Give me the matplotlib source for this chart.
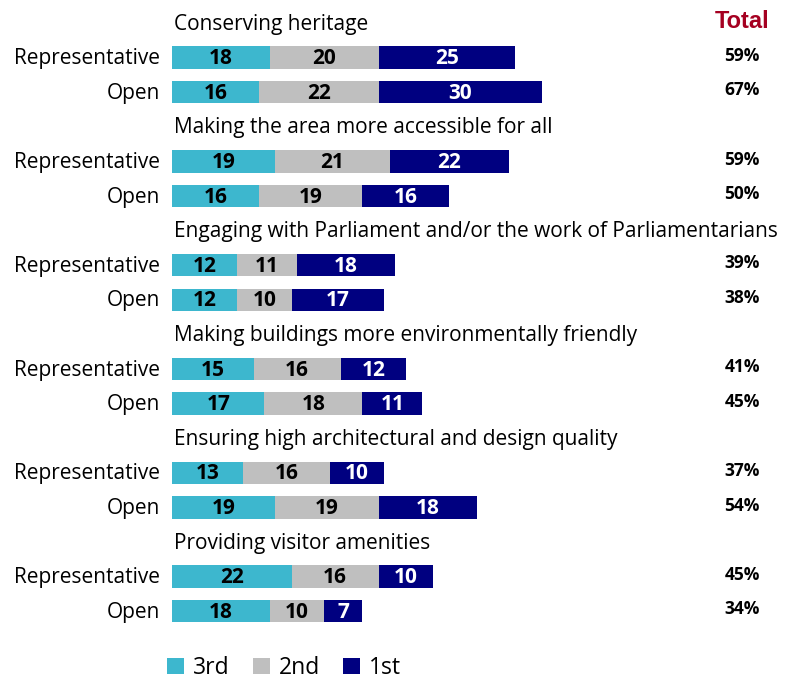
import numpy as np
import matplotlib.pyplot as plt

plt.rcParams['font.family'] = ['Open Sans', 'DejaVu Sans']

topics = [
    "Conserving heritage",
    "Making the area more accessible for all",
    "Engaging with Parliament and/or the work of Parliamentarians",
    "Making buildings more environmentally friendly",
    "Ensuring high architectural and design quality",
    "Providing visitor amenities",
]
samples = ["Representative", "Open"]

# ranked 3rd / 2nd / 1st, one pair (Representative, Open) per topic
third = [18, 16, 19, 16, 12, 12, 15, 17, 13, 19, 22, 18]
second = [20, 22, 21, 19, 11, 10, 16, 18, 16, 19, 16, 10]
first = [25, 30, 22, 16, 18, 17, 12, 11, 10, 18, 10, 7]
totals = [59, 67, 59, 50, 39, 38, 41, 45, 37, 54, 45, 34]

series = [("3rd", third, "#3DB7CE", "black"),
          ("2nd", second, "#BFBFBF", "black"),
          ("1st", first, "#000080", "white")]

fig = plt.figure(figsize=(7.88, 6.8), dpi=100)
ax = fig.add_axes([172 / 788, 0, 1 - 172 / 788, 1])
ax.set_xlim(0, (788 - 172) / 5.44)
ax.set_ylim((680 - 23) / 34.6, -23 / 34.6)
ax.axis("off")

# three slots per topic: title, Representative, Open
ypos = []
for g, topic in enumerate(topics):
    ax.text(0.4, g * 3 + 0.03, topic, ha="left", va="center", fontsize=15)
    for k, s in enumerate(samples):
        y = g * 3 + 1 + k
        ypos.append(y)
        ax.text(-2.2, y + 0.03, s, ha="right", va="center", fontsize=15, clip_on=False)

left = np.zeros(len(ypos))
handles = []
for name, vals, color, tcolor in series:
    vals = np.array(vals)
    bars = ax.barh(ypos, vals, left=left, height=0.65, color=color, label=name)
    handles.append(bars)
    for y, l, v in zip(ypos, left, vals):
        ax.text(l + v / 2, y + 0.03, str(v), ha="center", va="center",
                fontsize=15, fontweight="bold", color=tcolor)
    left += vals

ax.text(104.8, -0.05, "Total", ha="center", va="center", fontsize=17,
        fontweight="bold", color="#A50021", family=["Liberation Sans"])
for y, t in zip(ypos, totals):
    ax.text(104.8, y - 0.05, f"{t}%", ha="center", va="center", fontsize=12.5,
            fontweight="bold")

fig.legend(handles=handles, loc="center", bbox_to_anchor=(284 / 788, 1 - 668 / 680),
           ncol=3, frameon=False, fontsize=16.5, handlelength=0.75, handleheight=0.75,
           handletextpad=0.4, columnspacing=1.0)

fig.savefig("out.png", dpi=100)
